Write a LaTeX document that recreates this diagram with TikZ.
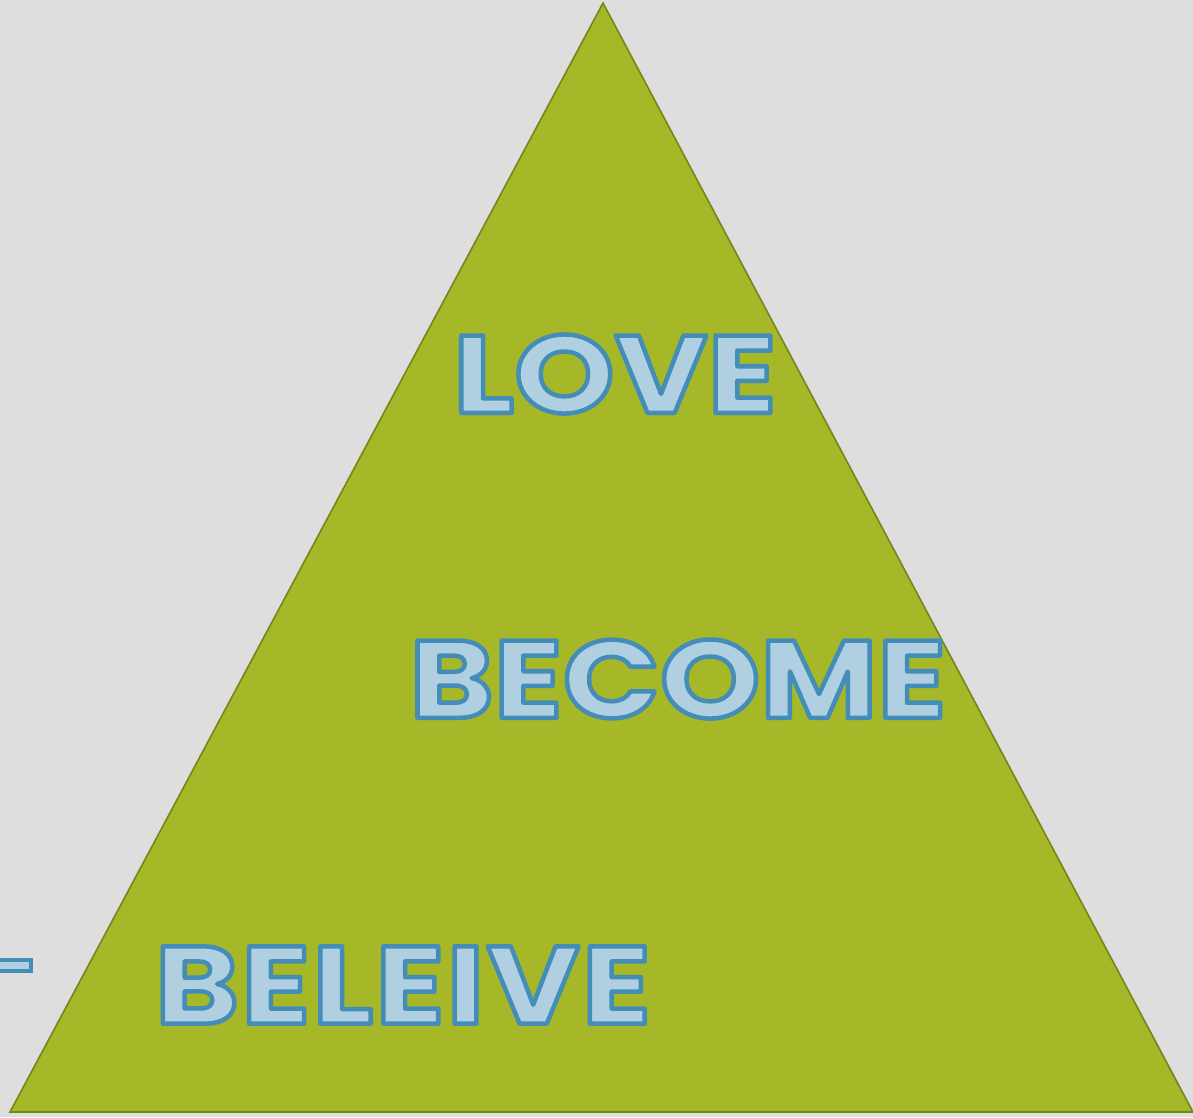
\documentclass[tikz,border=0pt]{standalone}
\usepackage{fontspec}
\newfontfamily\wordfont{Poppins}[FakeStretch=1.16]
\newfontfamily\widewordfont{Poppins}[FakeStretch=1.16,LetterSpace=2]
\usepackage{xcolor}
\usepackage{tikz}
\definecolor{slidegrey}{RGB}{222,222,222}
\definecolor{pyramidgreen}{RGB}{166,183,39}
\definecolor{pyramidedge}{RGB}{118,134,28}
\definecolor{wordfill}{RGB}{176,208,226}
\definecolor{wordedge}{RGB}{67,141,184}
% outlined letters: fill in wordfill, stroke in wordedge
\newcommand\outlineword[1]{{\color{wordfill}\special{pdf:literal direct 2 Tr 4.5 w 1 j 0.263 0.553 0.722 RG}#1\special{pdf:literal direct 0 Tr}}}

\begin{document}
\begin{tikzpicture}[
  x=1pt,y=-1pt,
  word/.style={inner sep=0pt,font=\fontsize{110}{110}\wordfont\bfseries},
  wideword/.style={word,font=\fontsize{110}{110}\widewordfont\bfseries},
  edgebar/.style={draw=wordedge,fill=wordfill,line width=4.5pt},
]
  \useasboundingbox[fill=slidegrey] (0,0) rectangle (1193,1117);
  \coordinate (apex) at (603,3);
  \coordinate (left) at (10,1112);
  \coordinate (right) at (1193,1112);
  \draw[fill=pyramidgreen,draw=pyramidedge,line width=1.6pt] (apex) -- (left) -- (right) -- cycle;
  \node[word] (love)    at (615,374) {\outlineword{LOVE}};
  \node[word] (become)  at (678,679) {\outlineword{BECOME}};
  \node[wideword] (beleive) at (403,985) {\outlineword{BELEIVE}};
  % cut-off bar at the left margin
  \draw[edgebar] (-20,960) rectangle (31,971);
\end{tikzpicture}
\end{document}
